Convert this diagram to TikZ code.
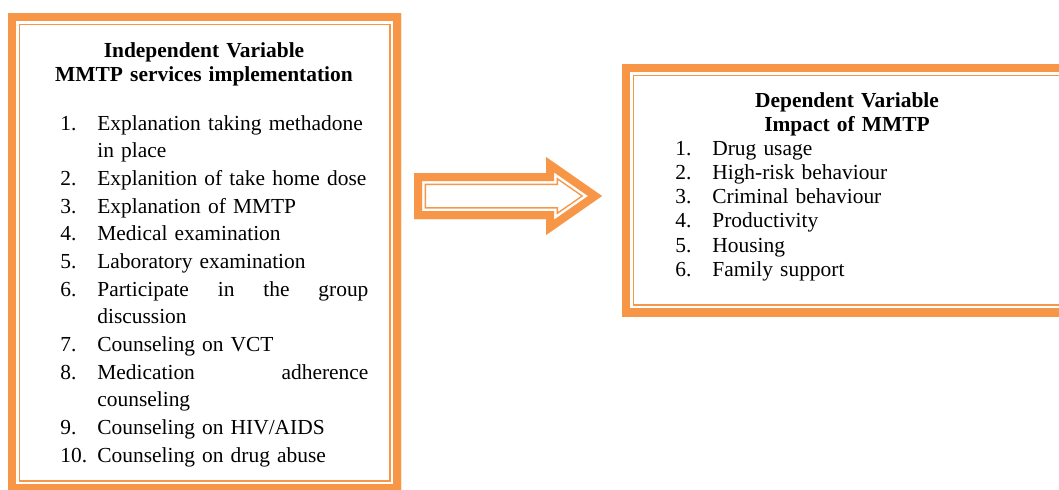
\documentclass[tikz,border=0pt]{standalone}
\usepackage{fontspec}
\setmainfont{Liberation Serif}
\usepackage{xcolor}
\definecolor{FrameOrange}{HTML}{F79646}
\newcommand{\ItemNo}[1]{\makebox[20.72pt][l]{#1}}
\newcommand{\ItemCont}{\hspace*{20.72pt}}
\newcommand{\ItemFull}[1]{\hbox to 151.8pt{#1}}
\tikzset{
OuterLine/.style={
 draw=FrameOrange,
 line width=13.44pt,
 line join=miter
 },
GapLine/.style={
 draw=white,
 line width=11.76pt,
 line join=miter
 },
ThickBand/.style={
 draw=FrameOrange,
 line width=8.96pt,
 line join=miter
 },
HeadText/.style={
 anchor=base,
 inner sep=0pt,
 text width=240pt,
 align=center,
 font=\fontsize{12}{13.7}\selectfont\bfseries
 },
ListText/.style={
 anchor=base west,
 inner sep=0pt,
 text width=#1,
 align=left
 }
}
\begin{document}
\begin{tikzpicture}[x=0.56pt,y=-0.56pt]
\useasboundingbox (0,0) rectangle (1059,489);
% independent variable frame
\coordinate (inw) at (8,13);
\coordinate (ise) at (401,492);
\begin{scope}
\clip (inw) rectangle (ise);
\draw[OuterLine] (inw) rectangle (ise);
\draw[GapLine] (inw) rectangle (ise);
\draw[ThickBand] (inw) rectangle (ise);
\end{scope}
% dependent variable frame
\coordinate (dnw) at (622,64);
\coordinate (dse) at (1072,316);
\begin{scope}
\clip (dnw) rectangle (dse);
\draw[OuterLine] (dnw) rectangle (dse);
\draw[GapLine] (dnw) rectangle (dse);
\draw[ThickBand] (dnw) rectangle (dse);
\end{scope}
% block arrow
\coordinate (a1) at (414,173);
\coordinate (a2) at (546,173);
\coordinate (a3) at (546,157);
\coordinate (tip) at (602,196);
\coordinate (a5) at (546,235);
\coordinate (a6) at (546,219);
\coordinate (a7) at (414,219);
\begin{scope}
\clip (a1) -- (a2) -- (a3) -- (tip) -- (a5) -- (a6) -- (a7) -- cycle;
\draw[OuterLine] (a1) -- (a2) -- (a3) -- (tip) -- (a5) -- (a6) -- (a7) -- cycle;
\draw[GapLine] (a1) -- (a2) -- (a3) -- (tip) -- (a5) -- (a6) -- (a7) -- cycle;
\draw[ThickBand] (a1) -- (a2) -- (a3) -- (tip) -- (a5) -- (a6) -- (a7) -- cycle;
\end{scope}
% texts
\node[HeadText] (indhead) at (204,57) {Independent Variable\\MMTP services implementation};
\node[ListText=173pt, font=\fontsize{12}{15.5}\selectfont] (indlist) at (60,130) {%
\ItemNo{1.}Explanation taking methadone\\
\ItemCont in place\\
\ItemNo{2.}Explanition of take home dose\\
\ItemNo{3.}Explanation of MMTP\\
\ItemNo{4.}Medical examination\\
\ItemNo{5.}Laboratory examination\\
\ItemNo{6.}\ItemFull{Participate\hfill in\hfill the\hfill group}\\
\ItemCont discussion\\
\ItemNo{7.}Counseling on VCT\\
\ItemNo{8.}\ItemFull{Medication\hfill adherence}\\
\ItemCont counseling\\
\ItemNo{9.}Counseling on HIV/AIDS\\
\ItemNo{10.}Counseling on drug abuse};
\node[HeadText] (dephead) at (847,107) {Dependent Variable\\Impact of MMTP};
\node[ListText=200pt, font=\fontsize{12}{13.6}\selectfont] (deplist) at (675,155) {%
\ItemNo{1.}Drug usage\\
\ItemNo{2.}High-risk behaviour\\
\ItemNo{3.}Criminal behaviour\\
\ItemNo{4.}Productivity\\
\ItemNo{5.}Housing\\
\ItemNo{6.}Family support};
\end{tikzpicture}
\end{document}
